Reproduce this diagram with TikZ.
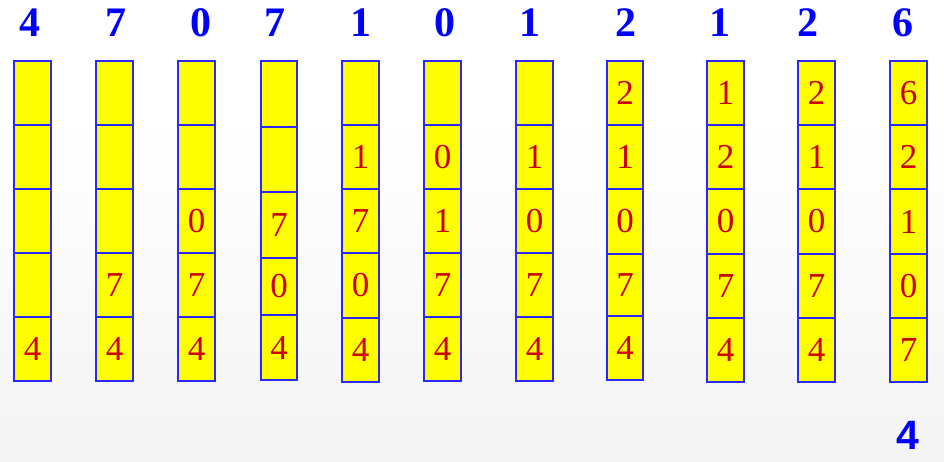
\documentclass[tikz,border=0pt]{standalone}
\usepackage{fontspec}
\newfontfamily\serifdig{Liberation Serif}
\newfontfamily\sansbold{Liberation Sans}
\definecolor{cellblue}{RGB}{40,40,255}
\definecolor{cellfill}{RGB}{255,255,0}
\definecolor{digred}{RGB}{204,0,0}
\definecolor{lblblue}{RGB}{0,0,255}
\definecolor{bggray}{RGB}{244,244,244}
\newcommand\stackcol[4]{%
  \foreach \ya/\yb/\d [count=\r] in {#4} {%
    \pgfmathsetmacro\cellw{#3-#2}%
    \pgfmathsetmacro\cellh{\yb-\ya}%
    \pgfmathsetmacro\cellx{(#2+#3)/2}%
    \pgfmathsetmacro\celly{(\ya+\yb)/2}%
    \node[cell, minimum width=\cellw pt, minimum height=\cellh pt] (c#1-\r) at (\cellx,\celly) {\d};
  }%
}
\begin{document}
\begin{tikzpicture}[x=1pt,y=-1pt,
  cell/.style={draw=cellblue, line width=1.3pt, fill=cellfill, inner sep=0pt,
    text=digred, font=\serifdig\fontsize{35}{35}\selectfont},
  toplbl/.style={text=lblblue, inner sep=0pt, font=\serifdig\bfseries\fontsize{42}{42}\selectfont},
  botlbl/.style={text=lblblue, inner sep=0pt, font=\sansbold\bfseries\fontsize{41}{41}\selectfont}]
\useasboundingbox (0,0) rectangle (944,461);
\fill[white] (0,0) rectangle (944,461);
\shade[top color=white, bottom color=bggray] (0,110) rectangle (944,461);

% input sequence
\foreach \lx/\t [count=\k] in {30/4,116/7,201/0,275/7,361/1,445/0,530/1,626/2,720/1,808/2,903/6}
  \node[toplbl] (in\k) at (\lx,23) {\t};

\stackcol{1}{14}{51}{61/125/{},125/189/{},189/253/{},253/317/{},317/381/4}
\stackcol{2}{96}{133}{61/125/{},125/189/{},189/253/{},253/317/7,317/381/4}
\stackcol{3}{178}{215}{61/125/{},125/189/{},189/253/0,253/317/7,317/381/4}
\stackcol{4}{261}{297}{61/127/{},127/192/{},192/258/7,258/315/0,315/380/4}
\stackcol{5}{342}{379}{61/125/{},125/189/1,189/253/7,253/318/0,318/382/4}
\stackcol{6}{424}{461}{61/125/{},125/189/0,189/253/1,253/317/7,317/381/4}
\stackcol{7}{516}{553}{61/125/{},125/189/1,189/253/0,253/317/7,317/381/4}
\stackcol{8}{607}{643}{61/125/2,125/189/1,189/254/0,254/316/7,316/380/4}
\stackcol{9}{707}{744}{61/125/1,125/189/2,189/254/0,254/318/7,318/382/4}
\stackcol{10}{798}{835}{61/125/2,125/189/1,189/254/0,254/318/7,318/382/4}
\stackcol{11}{890}{927}{61/125/6,125/189/2,189/254/1,254/318/0,318/382/7}

\node[botlbl] (out) at (908,435) {4};
\end{tikzpicture}
\end{document}
